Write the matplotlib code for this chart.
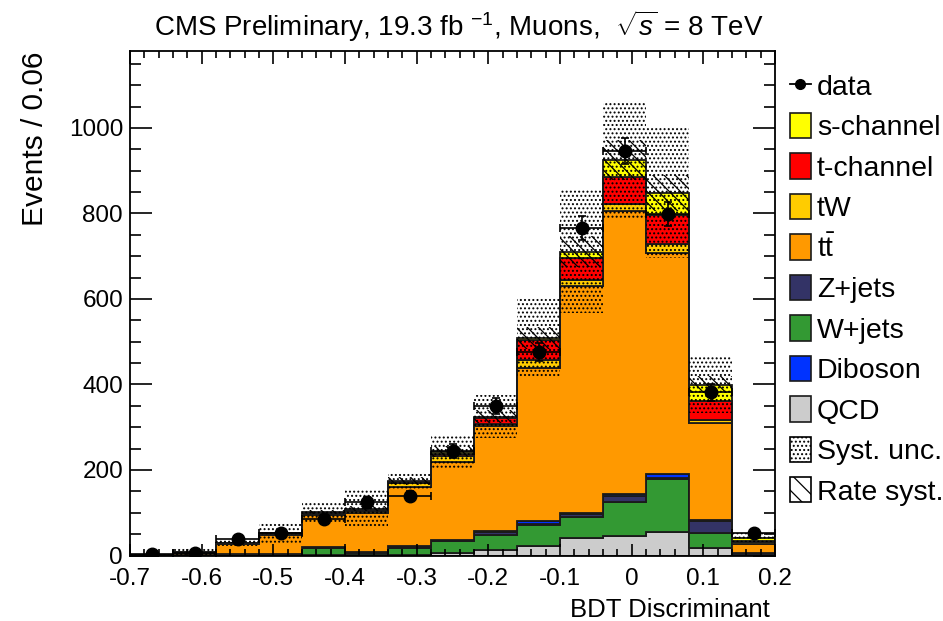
import numpy as np
import matplotlib.pyplot as plt
from matplotlib.patches import Patch
from matplotlib.lines import Line2D
from matplotlib.ticker import MultipleLocator, FuncFormatter

plt.rcParams['font.family'] = ['Liberation Sans', 'DejaVu Sans']
plt.rcParams['mathtext.fontset'] = 'custom'
plt.rcParams['mathtext.rm'] = 'Liberation Sans'
plt.rcParams['mathtext.it'] = 'Liberation Sans:italic'
plt.rcParams['hatch.linewidth'] = 0.9

# binning of the BDT output
bin_edges = [-0.70, -0.64, -0.58, -0.52, -0.46, -0.40, -0.34, -0.28,
             -0.22, -0.16, -0.10, -0.04, 0.02, 0.08, 0.14, 0.20]

# stacked backgrounds + signal, bottom -> top
qcd     = [0, 0, 0, 0, 1, 1, 2, 6, 14, 23, 40, 46, 56, 17, 1]
wjets   = [0, 1, 2, 2, 17, 5, 15, 27, 34, 48, 51, 80, 122, 36, 1]
zjets   = [0, 0, 0.5, 1, 1, 2, 4, 2, 8, 3, 5, 12, 3, 28, 3]
diboson = [0, 0, 0, 0, 0, 0.5, 1, 1, 2, 6, 4, 7, 10, 1, 0]
ttbar   = [1.5, 6, 24, 46, 76, 92, 139, 183, 245, 358, 530, 661, 517, 229, 23]
tw      = [0, 0.5, 2, 2, 3, 4, 8, 14, 5, 19, 14, 16, 20, 5, 3]
tchan   = [0, 0.3, 1, 1, 2, 3, 3, 5, 13, 47, 51, 64, 69, 46, 4]
schan   = [0, 0.2, 0.5, 0.5, 1, 2, 2, 5, 4, 5, 16, 39, 50, 37, 7]

# uncertainty bands
syst_up   = [3, 17, 38, 76, 123, 153, 192, 283, 375, 602, 855, 1062, 999, 464, 52]
rate_half = [0.1, 0.4, 1.5, 2.6, 5, 5.5, 8.7, 12, 16, 25, 36, 46, 42, 20, 2]

# data
data     = [3, 5, 38, 53, 86, 125, 140, 244, 350, 476, 767, 946, 798, 382, 52]
data_err = [2, 2, 6, 7, 9, 11, 12, 16, 19, 22, 28, 31, 28, 20, 7]

components = [
    ('QCD', qcd, '#cccccc'),
    ('W+jets', wjets, '#339933'),
    ('Z+jets', zjets, '#333366'),
    ('Diboson', diboson, '#0033ff'),
    (r't$\bar{\mathrm{t}}$', ttbar, '#ff9900'),
    ('tW', tw, '#ffcc00'),
    ('t-channel', tchan, '#ff0000'),
    ('s-channel', schan, '#ffff00'),
]

edges = np.array(bin_edges)
centers = 0.5 * (edges[1:] + edges[:-1])

fig = plt.figure(figsize=(9.43, 6.21), dpi=100)
ax = fig.add_axes([130 / 943, 1 - 555.5 / 621, 645 / 943, 504.5 / 621])

bottom = np.zeros(len(data))
for name, vals, col in components:
    top = bottom + np.array(vals)
    ax.stairs(top, edges, baseline=bottom, fill=True, facecolor=col,
              edgecolor='#1a1a1a', linewidth=1.3)
    bottom = top
total = bottom

# systematic band (dots) and rate systematics (hatched)
syst_up = np.array(syst_up)
syst_dn = np.clip(2 * total - syst_up, 0, None)
ax.stairs(syst_up, edges, baseline=syst_dn, fill=True, facecolor='none',
          edgecolor='black', linewidth=0, hatch='....')
rate_half = np.array(rate_half)
ax.stairs(total + rate_half, edges, baseline=total - rate_half, fill=True,
          facecolor='none', edgecolor='black', linewidth=0, hatch='\\\\\\')

ax.errorbar(centers, data, xerr=0.03, yerr=data_err, fmt='o', color='black',
            ms=9, capsize=3, elinewidth=1.2, capthick=1.2)

ax.set_xlim(-0.7, 0.2)
ax.set_ylim(0, 1180)
ax.xaxis.set_major_locator(MultipleLocator(0.1))
ax.xaxis.set_minor_locator(MultipleLocator(0.02))
ax.yaxis.set_major_locator(MultipleLocator(200))
ax.yaxis.set_minor_locator(MultipleLocator(50))
ax.xaxis.set_major_formatter(FuncFormatter(lambda v, p: f'{round(v, 2):g}' if abs(v) > 1e-9 else '0'))
ax.tick_params(which='both', direction='in', top=True, right=True, labelsize=17.5, width=1.2)
ax.tick_params(axis='x', which='major', length=9, pad=9)
ax.tick_params(axis='x', which='minor', length=5)
ax.tick_params(axis='y', which='major', length=16, pad=5)
ax.tick_params(axis='y', which='minor', length=8)
for s in ax.spines.values():
    s.set_linewidth(1.3)

ax.set_xlabel('BDT Discriminant', fontsize=18.5, labelpad=4)
ax.xaxis.set_label_coords(0.992, -0.085)
ax.xaxis.label.set_ha('right')
ax.set_ylabel('Events / 0.06', fontsize=21.5, loc='top', labelpad=14)
fig.text(0.486, 0.958, r'CMS Preliminary, 19.3 fb $^{-1}$, Muons,  $\sqrt{s}$ = 8 TeV',
         ha='center', va='center', fontsize=20)

handles = [Line2D([], [], color='black', marker='o', ms=7, lw=1.3)]
labels = ['data']
for name, vals, col in components[::-1]:
    handles.append(Patch(facecolor=col, edgecolor='#1a1a1a', lw=1.2))
    labels.append(name)
# legend order as in the original: Z+jets, W+jets, Diboson, QCD
handles = [handles[i] for i in [0, 1, 2, 3, 4, 6, 7, 5, 8]]
labels = [labels[i] for i in [0, 1, 2, 3, 4, 6, 7, 5, 8]]
handles += [Patch(facecolor='white', edgecolor='black', hatch='....', lw=1.2),
            Patch(facecolor='white', edgecolor='black', hatch='\\\\', lw=1.2)]
labels += ['Syst. unc.', 'Rate syst.']
fig.legend(handles, labels, loc='upper left', bbox_to_anchor=(790 / 943, 1 - 72.5 / 621),
           frameon=False, fontsize=20.5, handlelength=0.72, handleheight=1.0,
           labelspacing=0.42, handletextpad=0.22, borderaxespad=0, borderpad=0)

fig.savefig('out.png', dpi=100)
